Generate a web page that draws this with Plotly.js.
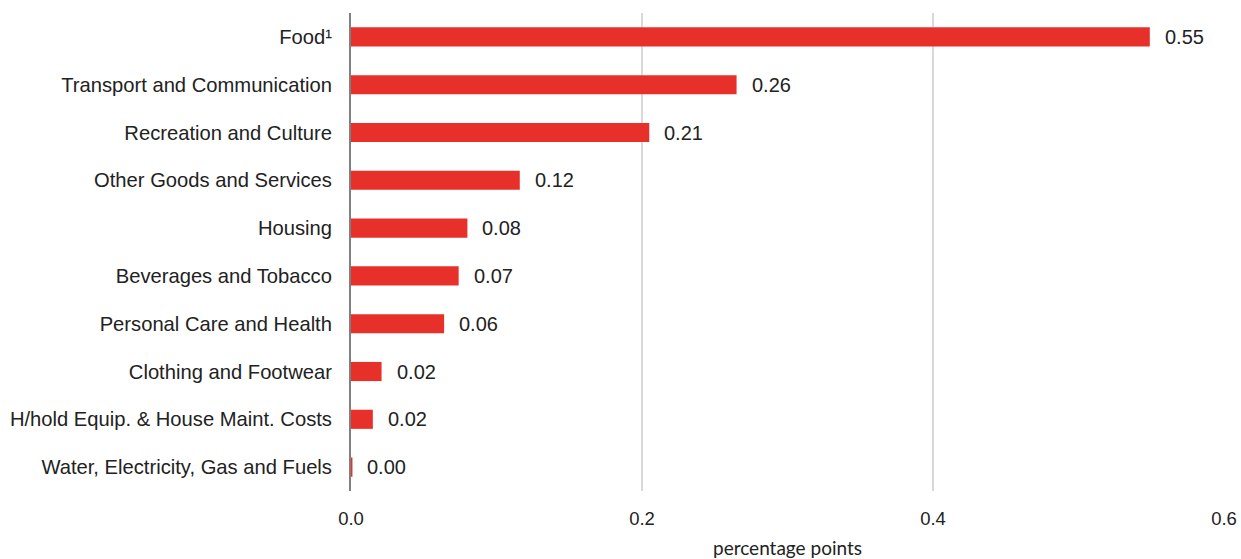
<!DOCTYPE html>
<html>
<head>
<meta charset="utf-8">
<script src="https://cdn.plot.ly/plotly-3.0.1.min.js"></script>
<style>html,body{margin:0;padding:0;background:#fff;}#chart{width:1241px;height:559px;}</style>
</head>
<body>
<div id="chart"></div>
<script>
const categories = [
  "Food¹",
  "Transport and Communication",
  "Recreation and Culture",
  "Other Goods and Services",
  "Housing",
  "Beverages and Tobacco",
  "Personal Care and Health",
  "Clothing and Footwear",
  "H/hold Equip. & House Maint. Costs",
  "Water, Electricity, Gas and Fuels"
];
const values = [0.549, 0.265, 0.205, 0.116, 0.080, 0.074, 0.064, 0.021, 0.015, 0.001];
const valueLabels = ["0.55", "0.26", "0.21", "0.12", "0.08", "0.07", "0.06", "0.02", "0.02", "0.00"];
const xTicks = [0, 0.2, 0.4, 0.6];
const xTickLabels = ["0.0", "0.2", "0.4", "0.6"];

const SANS = "'Liberation Sans', 'DejaVu Sans', sans-serif";

const trace = {
  type: 'bar',
  orientation: 'h',
  y: categories,
  x: values,
  width: 0.4,
  marker: {color: '#E8302A'},
  hoverinfo: 'none'
};

const annotations = values.map((v, i) => ({
  x: v, y: categories[i], xref: 'x', yref: 'y',
  text: valueLabels[i], showarrow: false,
  xanchor: 'left', yanchor: 'middle', xshift: 13,
  font: {family: SANS, size: 20, color: '#222'}
}));

const layout = {
  width: 1241, height: 559,
  margin: {l: 351, r: 17, t: 13, b: 68},
  paper_bgcolor: '#fff', plot_bgcolor: '#fff',
  showlegend: false,
  bargap: 0.6,
  font: {family: SANS},
  xaxis: {
    range: [0, 0.6],
    tickvals: xTicks, ticktext: xTickLabels,
    showgrid: true, gridcolor: '#d9d9d9', gridwidth: 2,
    zeroline: false, showline: false,
    ticks: '', ticklabelstandoff: 14,
    tickfont: {family: SANS, size: 18.5, color: '#222'},
    title: {text: 'percentage points', standoff: 17,
      font: {family: "Lato, 'Open Sans', sans-serif", size: 19, color: '#222'}}
  },
  yaxis: {
    autorange: 'reversed',
    showgrid: false, zeroline: false,
    showline: true, linecolor: '#808080', linewidth: 2,
    ticks: '', ticklabelstandoff: 13,
    tickfont: {family: SANS, size: 20.2, color: '#222'}
  },
  annotations: annotations
};

Plotly.newPlot('chart', [trace], layout, {displayModeBar: false, staticPlot: true});
</script>
</body>
</html>
